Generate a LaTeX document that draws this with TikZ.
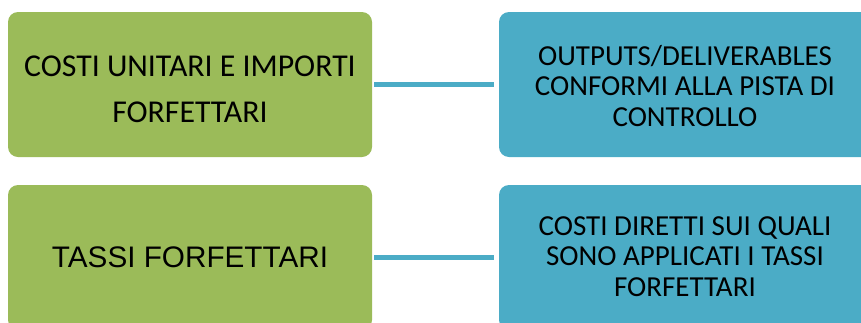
\documentclass[tikz,border=0pt]{standalone}
\usepackage{fontspec}
\setmainfont{Carlito}
\newfontfamily\arialfont{Liberation Sans}
\definecolor{boxgreen}{HTML}{9BBB59}
\definecolor{boxblue}{HTML}{4BACC6}
\begin{document}
\begin{tikzpicture}[x=1pt,y=-1pt,
  panel/.style={rounded corners=10pt, minimum height=145pt, inner sep=0pt},
  greenpanel/.style={panel, fill=boxgreen, minimum width=364pt},
  bluepanel/.style={panel, fill=boxblue, minimum width=372pt},
  caption/.style={inner sep=0pt, align=center, text=black},
  bluecaption/.style={caption, font=\fontsize{29}{30.5}\selectfont},
  link/.style={draw=boxblue, line width=5pt, shorten <=2pt, shorten >=5pt}]
\useasboundingbox (0,0) rectangle (861,322);
\begin{scope}
\clip (0,0) rectangle (861,322);
% panels
\node[greenpanel] (g1) at (190,84.5) {};
\node[greenpanel] (g2) at (190,257.5) {};
\node[bluepanel] (b1) at (685,84.5) {};
\node[bluepanel] (b2) at (685,257.5) {};
% captions
\node[caption, font=\fontsize{31.8}{45.5}\selectfont] (g1t)
  at ([yshift=-5pt]g1.center) {COSTI UNITARI E IMPORTI\\FORFETTARI};
\node[caption, font=\arialfont\fontsize{29.7}{34}\selectfont] (g2t)
  at (g2.center) {TASSI FORFETTARI};
\node[bluecaption] (b1t) at ([yshift=-1.5pt]b1.center)
  {OUTPUTS/DELIVERABLES\\CONFORMI ALLA PISTA DI\\CONTROLLO};
\node[bluecaption] (b2t) at ([yshift=1pt]b2.center)
  {COSTI DIRETTI SUI QUALI\\SONO APPLICATI I TASSI\\FORFETTARI};
% connectors
\draw[link] (g1.east) -- (b1.west);
\draw[link] (g2.east) -- (b2.west);
\end{scope}
\end{tikzpicture}
\end{document}
